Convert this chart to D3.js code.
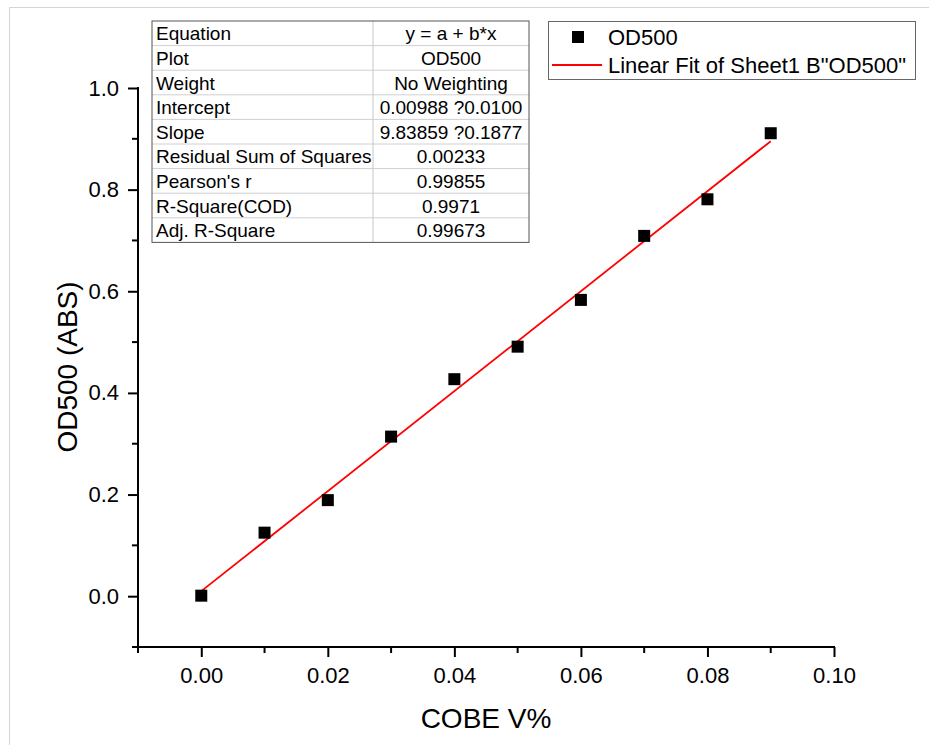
<!DOCTYPE html>
<html>
<head>
<meta charset="utf-8">
<script src="https://cdn.jsdelivr.net/npm/d3@7"></script>
<style>
  body { margin: 0; background: #fff; }
  text { font-family: "Liberation Sans", Arial, sans-serif; fill: #000; }
</style>
</head>
<body>
<script>
// data
var conc = [0.00, 0.01, 0.02, 0.03, 0.04, 0.05, 0.06, 0.07, 0.08, 0.09];
var od500 = [0.001, 0.125, 0.189, 0.314, 0.427, 0.491, 0.583, 0.709, 0.781, 0.911];
var fitA = 0.00988, fitB = 9.83859;
var xTicks = [0, 0.02, 0.04, 0.06, 0.08, 0.10];
var yTicks = [0, 0.2, 0.4, 0.6, 0.8, 1.0];
var tableLabels = ["Equation", "Plot", "Weight", "Intercept", "Slope",
  "Residual Sum of Squares", "Pearson's r", "R-Square(COD)", "Adj. R-Square"];
var tableValues = ["y = a + b*x", "OD500", "No Weighting", "0.00988 ?0.0100",
  "9.83859 ?0.1877", "0.00233", "0.99855", "0.9971", "0.99673"];
var legendNames = ["OD500", "Linear Fit of Sheet1 B\"OD500\""];

var W = 929, H = 745;
var svg = d3.select("body").append("svg").attr("width", W).attr("height", H);

// page frame
svg.append("path").attr("d", "M9.5,745 V7.5 H929")
  .attr("fill", "none").attr("stroke", "#d4d4d4").attr("stroke-width", 1);

var x = d3.scaleLinear().domain([-0.01, 0.10]).range([138, 834]);
var y = d3.scaleLinear().domain([-0.1, 1.0]).range([647, 88]);

// axes
var xAxis = d3.axisBottom(x).tickValues(xTicks).tickSize(10).tickPadding(10)
  .tickFormat(d3.format(".2f"));
var gx = svg.append("g").attr("transform", "translate(0,647)").call(xAxis);
var yAxis = d3.axisLeft(y).tickValues(yTicks).tickSize(10).tickPadding(9)
  .tickFormat(d3.format(".1f"));
var gy = svg.append("g").attr("transform", "translate(138,0)").call(yAxis);

[gx, gy].forEach(function (g) {
  g.select(".domain").remove();
  g.selectAll(".tick line").attr("stroke", "#000").attr("stroke-width", 2);
  g.selectAll(".tick text").attr("font-size", 22)
    .attr("font-family", "Liberation Sans, Arial, sans-serif").attr("fill", "#000");
});

// minor ticks
var xMinor = [-0.01, 0.01, 0.03, 0.05, 0.07, 0.09];
gx.selectAll(".minor").data(xMinor).enter().append("line")
  .attr("x1", function (d) { return x(d); }).attr("x2", function (d) { return x(d); })
  .attr("y1", 0).attr("y2", 6).attr("stroke", "#000").attr("stroke-width", 2);
var yMinor = [-0.1, 0.1, 0.3, 0.5, 0.7, 0.9];
gy.selectAll(".minor").data(yMinor).enter().append("line")
  .attr("y1", function (d) { return y(d); }).attr("y2", function (d) { return y(d); })
  .attr("x1", 0).attr("x2", -6).attr("stroke", "#000").attr("stroke-width", 2);

// axis lines
svg.append("line").attr("x1", x(-0.01) - 1).attr("x2", x(0.10) + 1)
  .attr("y1", 647).attr("y2", 647).attr("stroke", "#000").attr("stroke-width", 2);
svg.append("line").attr("x1", 138).attr("x2", 138)
  .attr("y1", y(1.0) - 1).attr("y2", y(-0.1) + 1).attr("stroke", "#000").attr("stroke-width", 2);

// axis titles
svg.append("text").attr("x", 486).attr("y", 728).attr("text-anchor", "middle")
  .attr("font-size", 28).text("COBE V%");
svg.append("text").attr("transform", "translate(77,367) rotate(-90)")
  .attr("text-anchor", "middle").attr("font-size", 28).text("OD500 (ABS)");

// fit line
svg.append("line")
  .attr("x1", x(0)).attr("y1", y(fitA))
  .attr("x2", x(0.09)).attr("y2", y(fitA + fitB * 0.09))
  .attr("stroke", "#ff0000").attr("stroke-width", 1.8);

// points
var pts = conc.map(function (c, i) { return { x: c, y: od500[i] }; });
svg.selectAll(".pt").data(pts).enter().append("rect")
  .attr("x", function (d) { return x(d.x) - 6; })
  .attr("y", function (d) { return y(d.y) - 6; })
  .attr("width", 12).attr("height", 12).attr("fill", "#000");

// stats table
var tX = 152, tY = 21, tW = 377, rowH = 24.6, colX = 373;
var tg = svg.append("g");
tg.selectAll(".rl").data(d3.range(1, tableLabels.length)).enter().append("line")
  .attr("x1", tX).attr("x2", tX + tW)
  .attr("y1", function (i) { return tY + i * rowH; })
  .attr("y2", function (i) { return tY + i * rowH; })
  .attr("stroke", "#d0d0d0").attr("stroke-width", 1);
tg.append("line").attr("x1", colX).attr("x2", colX).attr("y1", tY).attr("y2", tY + rowH * 9)
  .attr("stroke", "#c8c8c8").attr("stroke-width", 1);
tg.append("rect").attr("x", tX).attr("y", tY).attr("width", tW).attr("height", rowH * 9)
  .attr("fill", "none").attr("stroke", "#555").attr("stroke-width", 1);
tg.selectAll(".lab").data(tableLabels).enter().append("text")
  .attr("x", tX + 4).attr("y", function (d, i) { return tY + i * rowH + rowH / 2 + 7; })
  .attr("font-size", 19).text(function (d) { return d; });
tg.selectAll(".val").data(tableValues).enter().append("text")
  .attr("x", (colX + tX + tW) / 2).attr("text-anchor", "middle")
  .attr("y", function (d, i) { return tY + i * rowH + rowH / 2 + 7; })
  .attr("font-size", 19).text(function (d) { return d; });

// legend
var lg = svg.append("g");
lg.append("rect").attr("x", 548.5).attr("y", 21.5).attr("width", 367).attr("height", 58)
  .attr("fill", "#fff").attr("stroke", "#666").attr("stroke-width", 1);
lg.append("rect").attr("x", 572).attr("y", 31).attr("width", 12).attr("height", 12).attr("fill", "#000");
lg.append("line").attr("x1", 552).attr("x2", 602).attr("y1", 65).attr("y2", 65)
  .attr("stroke", "#ff0000").attr("stroke-width", 1.8);
lg.selectAll(".lt").data(legendNames).enter().append("text")
  .attr("x", 608).attr("y", function (d, i) { return 45 + i * 28; })
  .attr("font-size", 22).text(function (d) { return d; });
</script>
</body>
</html>
